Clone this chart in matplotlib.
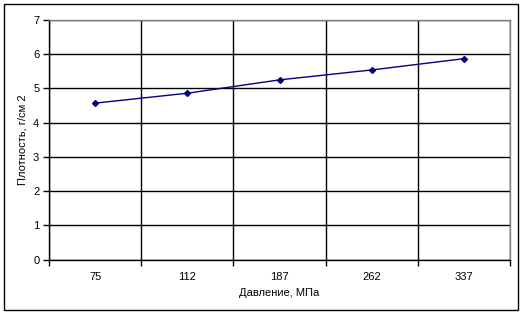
import matplotlib.pyplot as plt
import numpy as np
from matplotlib.patches import Rectangle

pressure = ["75", "112", "187", "262", "337"]
density = [4.57, 4.86, 5.25, 5.54, 5.87]

plt.rcParams["font.family"] = ["Liberation Sans", "DejaVu Sans"]
plt.rcParams["font.size"] = 8

fig = plt.figure(figsize=(5.25, 3.14), dpi=100)
ax = fig.add_axes([49 / 525, 1 - 259.5 / 314, (510 - 49) / 525, (259.5 - 20) / 314])

x = np.arange(len(pressure))
ax.plot(x, density, color="#000080", lw=1, marker="D", ms=3, zorder=3)

ax.set_xlim(-0.5, len(pressure) - 0.5)
ax.set_ylim(0, 7)
ax.set_yticks(range(8))
ax.set_xticks(x, pressure)
ax.set_xticks(np.arange(len(pressure) + 1) - 0.5, minor=True)
ax.tick_params(axis="x", which="major", length=0, pad=9)
ax.tick_params(axis="x", which="minor", length=4, direction="out", width=1)
ax.tick_params(axis="y", length=4, direction="out", width=1, pad=3)
ax.grid(True, axis="y", color="black", lw=1)
ax.grid(True, axis="x", which="minor", color="black", lw=1)
ax.set_axisbelow(True)

for side in ["left", "bottom"]:
    ax.spines[side].set_color("black")
    ax.spines[side].set_linewidth(1)
for side in ["top", "right"]:
    ax.spines[side].set_color("#808080")
    ax.spines[side].set_linewidth(1)

ax.set_xlabel("Давление, МПа", labelpad=4)
ax.set_ylabel("Плотность, г/см 2", labelpad=4)

fig.patches.append(Rectangle((4 / 525, 4 / 314), 514 / 525, 306 / 314,
                             transform=fig.transFigure, fill=False,
                             edgecolor="black", lw=1))

fig.savefig("out.png", dpi=100)
